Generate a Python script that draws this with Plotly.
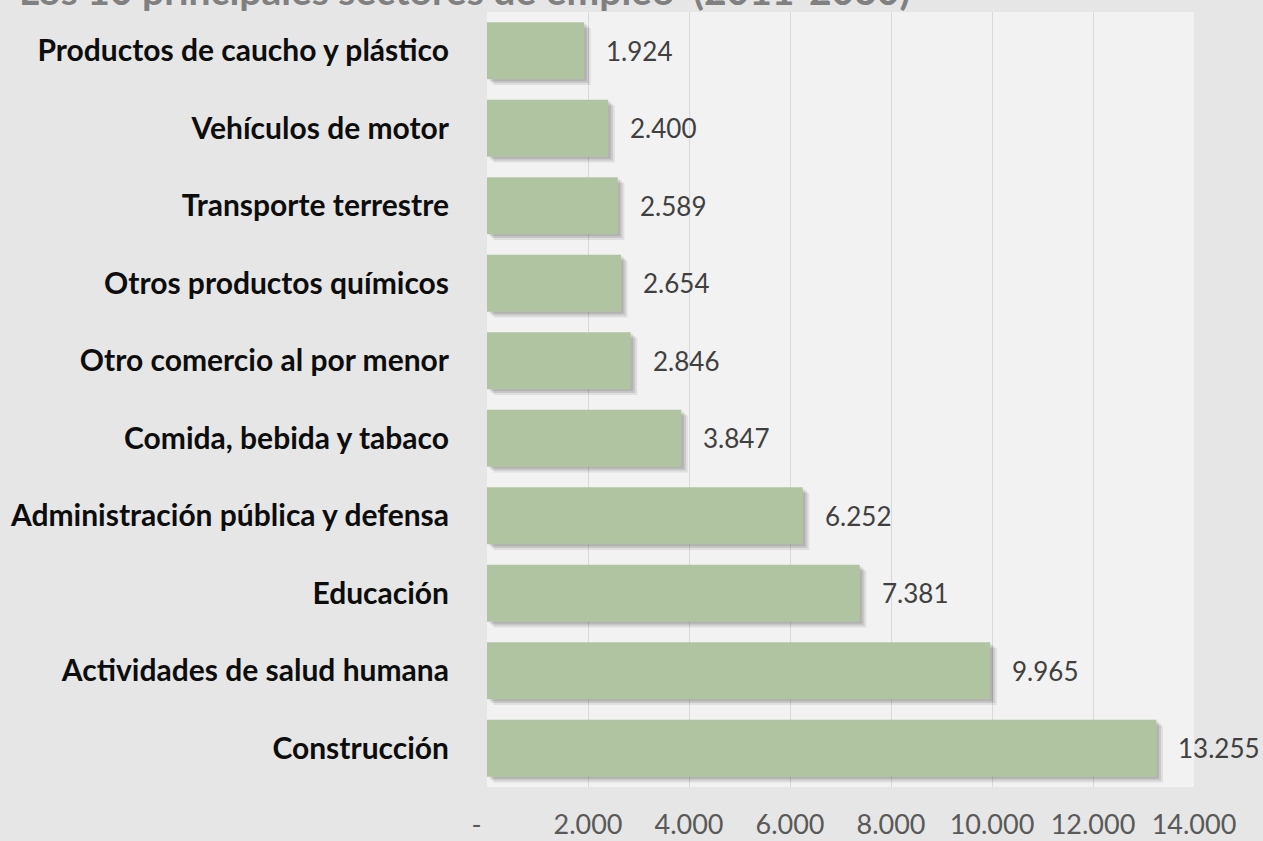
import plotly.graph_objects as go

categories = [
    "Productos de caucho y plástico",
    "Vehículos de motor",
    "Transporte terrestre",
    "Otros productos químicos",
    "Otro comercio al por menor",
    "Comida, bebida y tabaco",
    "Administración pública y defensa",
    "Educación",
    "Actividades de salud humana",
    "Construcción",
]
values = [1924, 2400, 2589, 2654, 2846, 3847, 6252, 7381, 9965, 13255]
tick_values = [0, 2000, 4000, 6000, 8000, 10000, 12000, 14000]
tick_labels = ["-\u00a0\u00a0\u00a0", "2.000", "4.000", "6.000", "8.000", "10.000", "12.000", "14.000"]
title_text = "Los 10 principales sectores de empleo  (2011-2030)"

FONT = "Lato"
BAR_W = 0.735
fig = go.Figure()

# soft shadow layers
for dx, dy, a in [(50, 0.025, 0.10), (90, 0.05, 0.10), (130, 0.075, 0.08)]:
    fig.add_trace(go.Bar(
        y=categories, x=values, base=[dx] * len(values), orientation="h",
        width=BAR_W, offset=-BAR_W / 2 + dy,
        marker=dict(color=f"rgba(0,0,0,{a})", line=dict(width=0)),
        hoverinfo="skip", showlegend=False,
    ))

fig.add_trace(go.Bar(
    y=categories, x=values, orientation="h",
    width=BAR_W, offset=-BAR_W / 2,
    marker=dict(color="#b1c4a2", line=dict(width=0)),
    showlegend=False,
))

for c, v in zip(categories, values):
    fig.add_annotation(
        x=v, y=c, xref="x", yref="y", text=f"{v:,}".replace(",", "."),
        showarrow=False, xanchor="left", yanchor="middle", xshift=20,
        font=dict(family=FONT, size=26, color="#404040"),
    )

fig.add_annotation(
    x=0, y=1, xref="paper", yref="paper", text=f"<b>{title_text}</b>",
    showarrow=False, xanchor="left", yanchor="bottom", xshift=-470, yshift=-3,
    font=dict(family=FONT, size=39, color="#808080"),
)

fig.update_layout(
    width=1263, height=841,
    margin=dict(l=487, r=69, t=12, b=54, pad=0, autoexpand=False),
    paper_bgcolor="#e6e6e6", plot_bgcolor="#f2f2f2",
    barmode="overlay",
    separators=",.",
    showlegend=False,
)
fig.update_xaxes(
    range=[0, 14000], tickvals=tick_values, ticktext=tick_labels,
    showgrid=True, gridcolor="#d9d9d9", gridwidth=1.2, zeroline=False,
    showline=False, ticks="outside", ticklen=14, tickcolor="rgba(0,0,0,0)",
    tickfont=dict(family=FONT, size=27, color="#595959"), automargin=False,
)
fig.update_yaxes(
    autorange="reversed", showgrid=False, zeroline=False, showline=False,
    ticks="outside", ticklen=31, tickcolor="rgba(0,0,0,0)",
    tickfont=dict(family=FONT, size=30, color="#0d0d0d", weight="bold"), automargin=False,
)

fig.write_html(
    "out.html",
    config={"displayModeBar": False},
    post_script="document.body.style.margin='0';document.body.style.overflow='hidden';",
)
